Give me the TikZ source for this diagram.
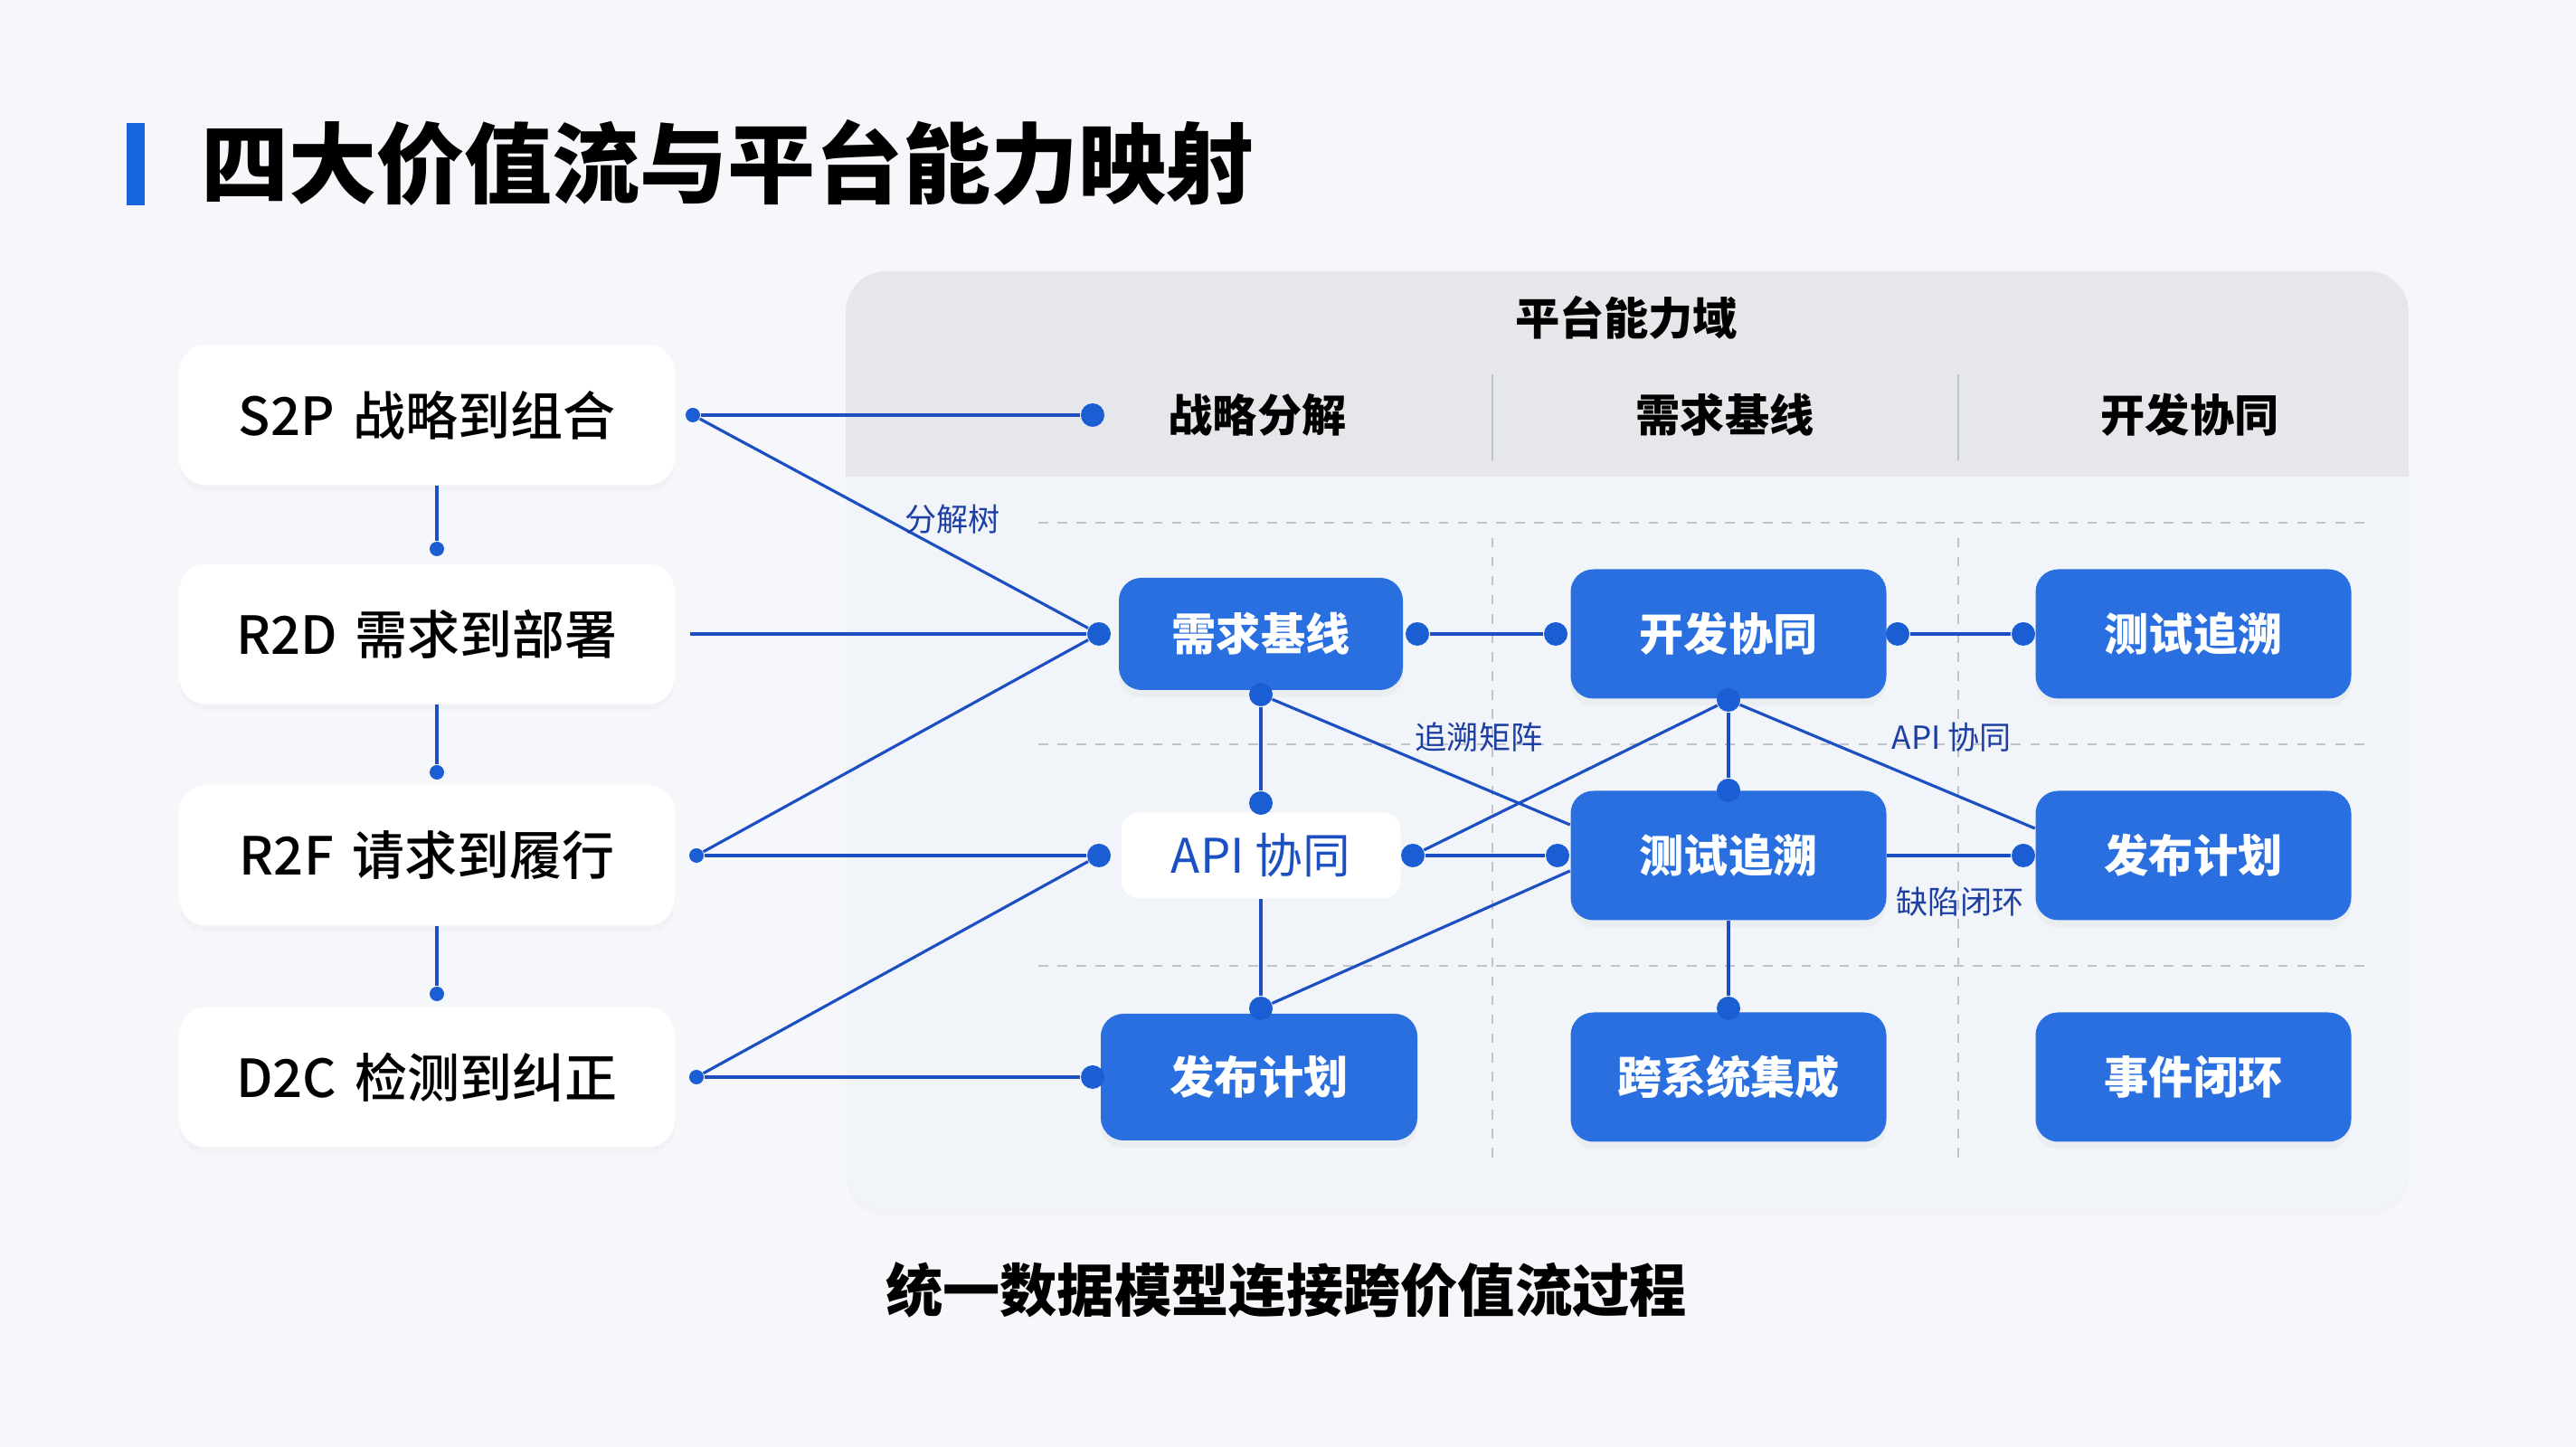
\documentclass[tikz,border=0pt]{standalone}
\usepackage{fontspec}
\setmainfont{Noto Sans CJK SC}
\newfontfamily\medfont{Noto Sans CJK SC Medium}
\usetikzlibrary{shadows}

\definecolor{pagebg}{HTML}{F5F7FB}
\definecolor{panelbg}{HTML}{F1F4F8}
\definecolor{headbg}{HTML}{E6E7EA}
\definecolor{capblue}{HTML}{2A6FE0}
\definecolor{linkblue}{HTML}{1B4FC2}
\definecolor{dotblue}{HTML}{1B5DD2}
\definecolor{barblue}{HTML}{1766E0}
\definecolor{lblblue}{HTML}{1D3FA3}
\definecolor{sepgray}{HTML}{BFC3CA}

\begin{document}
\begin{tikzpicture}[
  leftbox/.style={fill=white, rounded corners=0.3cm, minimum width=5.48cm, minimum height=1.55cm,
    font=\medfont\fontsize{16.5}{19}\selectfont, drop shadow={opacity=0.035, shadow xshift=0cm, shadow yshift=-0.07cm}},
  capbox/.style={fill=capblue, text=white, rounded corners=0.25cm, minimum width=3.49cm, minimum height=1.43cm,
    font=\fontsize{14}{17}\selectfont\bfseries, drop shadow={opacity=0.05, shadow xshift=0cm, shadow yshift=-0.08cm}},
  apibox/.style={fill=white, text=linkblue, rounded corners=0.2cm, minimum width=3.09cm, minimum height=0.95cm,
    font=\fontsize{15}{18}\selectfont},
  hdr/.style={font=\fontsize{14}{17}\selectfont\bfseries},
  lbl/.style={text=lblblue, font=\fontsize{10}{12}\selectfont, inner sep=1pt},
  link/.style={draw=linkblue, line width=0.9pt},
  dot/.style={circle, fill=dotblue, inner sep=0pt, minimum size=0.26cm},
  sdot/.style={circle, fill=dotblue, inner sep=0pt, minimum size=0.16cm}
]
\useasboundingbox (0,0) rectangle (28.48,16);
\fill[pagebg] (0,0) rectangle (28.48,16);

% Title
\fill[barblue] (1.40,13.73) rectangle (1.60,14.64);
\node[anchor=west, inner sep=0pt, font=\fontsize{27.6}{32}\selectfont\bfseries] (title) at (2.22,14.20) {四大价值流与平台能力映射};

% Platform panel
\path[fill=panelbg, rounded corners=0.45cm, drop shadow={opacity=0.03, shadow xshift=0cm, shadow yshift=-0.1cm}] (9.35,2.65) rectangle (26.63,13.0);
\begin{scope}
\clip[rounded corners=0.45cm] (9.35,2.65) rectangle (26.63,13.0);
\fill[headbg] (9.35,10.73) rectangle (26.63,13.0);
\end{scope}
\node[hdr] (domain) at (17.98,12.49) {平台能力域};
\node[hdr] (hsd) at (13.90,11.41) {战略分解};
\node[hdr] (hrb) at (19.07,11.41) {需求基线};
\node[hdr] (hdc) at (24.21,11.41) {开发协同};
\draw[sepgray, thin] (16.50,10.91) -- (16.50,11.86);
\draw[sepgray, thin] (21.65,10.91) -- (21.65,11.86);

% Grid
\draw[sepgray, thin, dashed] (16.50,3.20) -- (16.50,10.10);
\draw[sepgray, thin, dashed] (21.65,3.20) -- (21.65,10.10);
\foreach \y in {10.22,7.77,5.32}
  \draw[sepgray, thin, dash pattern=on 3pt off 3pt] (11.48,\y) -- (26.21,\y);

% Value streams
\node[leftbox] (s2p) at (4.72,11.41) {S2P\hspace{0.35em}战略到组合};
\node[leftbox] (r2d) at (4.72,8.99) {R2D\hspace{0.35em}需求到部署};
\node[leftbox] (r2f) at (4.72,6.54) {R2F\hspace{0.35em}请求到履行};
\node[leftbox] (d2c) at (4.72,4.09) {D2C\hspace{0.35em}检测到纠正};

% Capabilities
\node[capbox, minimum width=3.14cm, minimum height=1.24cm] (rb) at (13.94,8.99) {需求基线};
\node[capbox] (dc1) at (19.11,8.99) {开发协同};
\node[capbox] (tt1) at (24.25,8.99) {测试追溯};
\node[apibox] (api) at (13.94,6.54) {API 协同};
\node[capbox] (tt2) at (19.11,6.54) {测试追溯};
\node[capbox] (rp1) at (24.25,6.54) {发布计划};
\node[capbox, minimum width=3.50cm, minimum height=1.40cm] (rp2) at (13.92,4.09) {发布计划};
\node[capbox] (si) at (19.11,4.09) {跨系统集成};
\node[capbox] (ic) at (24.25,4.09) {事件闭环};

% Joints
\node[sdot] (j1) at (4.83,9.93) {};
\node[sdot] (j2) at (4.83,7.46) {};
\node[sdot] (j3) at (4.83,5.01) {};
\node[sdot] (o1) at (7.66,11.41) {};
\coordinate (o2) at (7.63,8.99);
\node[sdot] (o3) at (7.70,6.54) {};
\node[sdot] (o4) at (7.70,4.09) {};
\node[dot] (t1) at (12.08,11.41) {};
\node[dot] (t2) at (12.15,8.99) {};
\node[dot] (t3) at (12.15,6.54) {};
\node[dot] (t4) at (12.08,4.09) {};
\node[dot] (a1) at (15.67,8.99) {};
\node[dot] (a2) at (17.20,8.99) {};
\node[dot] (a3) at (20.98,8.99) {};
\node[dot] (a4) at (22.37,8.99) {};
\node[dot] (b1) at (13.94,8.32) {};
\node[dot] (b2) at (13.94,7.12) {};
\node[dot] (c1) at (19.11,8.26) {};
\node[dot] (c2) at (19.11,7.26) {};
\node[dot] (a5) at (15.62,6.54) {};
\node[dot] (a6) at (17.22,6.54) {};
\node[dot] (a7) at (22.37,6.54) {};
\node[dot] (b3) at (13.94,4.85) {};
\node[dot] (c3) at (19.11,4.85) {};

% Links
\draw[link] (s2p.south -| j1) -- (j1);
\draw[link] (r2d.south -| j2) -- (j2);
\draw[link] (r2f.south -| j3) -- (j3);
\draw[link] (o1) -- (t1);
\draw[link] (o1) -- (t2);
\draw[link] (o2) -- (t2);
\draw[link] (o3) -- (t2);
\draw[link] (o3) -- (t3);
\draw[link] (o4) -- (t3);
\draw[link] (o4) -- (t4);
\draw[link] (a1) -- (a2);
\draw[link] (a3) -- (a4);
\draw[link] (b1) -- (b2);
\draw[link] (b1) -- ([yshift=3.4mm]tt2.west);
\draw[link] (c1) -- (c2);
\draw[link] (c1) -- (a5);
\draw[link] (c1) -- ([yshift=3mm]rp1.west);
\draw[link] (a5) -- (a6);
\draw[link] (tt2.east) -- (a7);
\draw[link] (api.south) -- (b3);
\draw[link] (b3) -- ([yshift=-1.7mm]tt2.west);
\draw[link] (tt2.south) -- (c3);

% Labels
\node[lbl] (l1) at (10.53,10.26) {分解树};
\node[lbl] (l2) at (16.35,7.85) {追溯矩阵};
\node[lbl] (l3) at (21.58,7.85) {API 协同};
\node[lbl] (l4) at (21.67,6.03) {缺陷闭环};

% Caption
\node[font=\fontsize{18}{22}\selectfont\bfseries] (cap) at (14.22,1.74) {统一数据模型连接跨价值流过程};
\end{tikzpicture}
\end{document}
